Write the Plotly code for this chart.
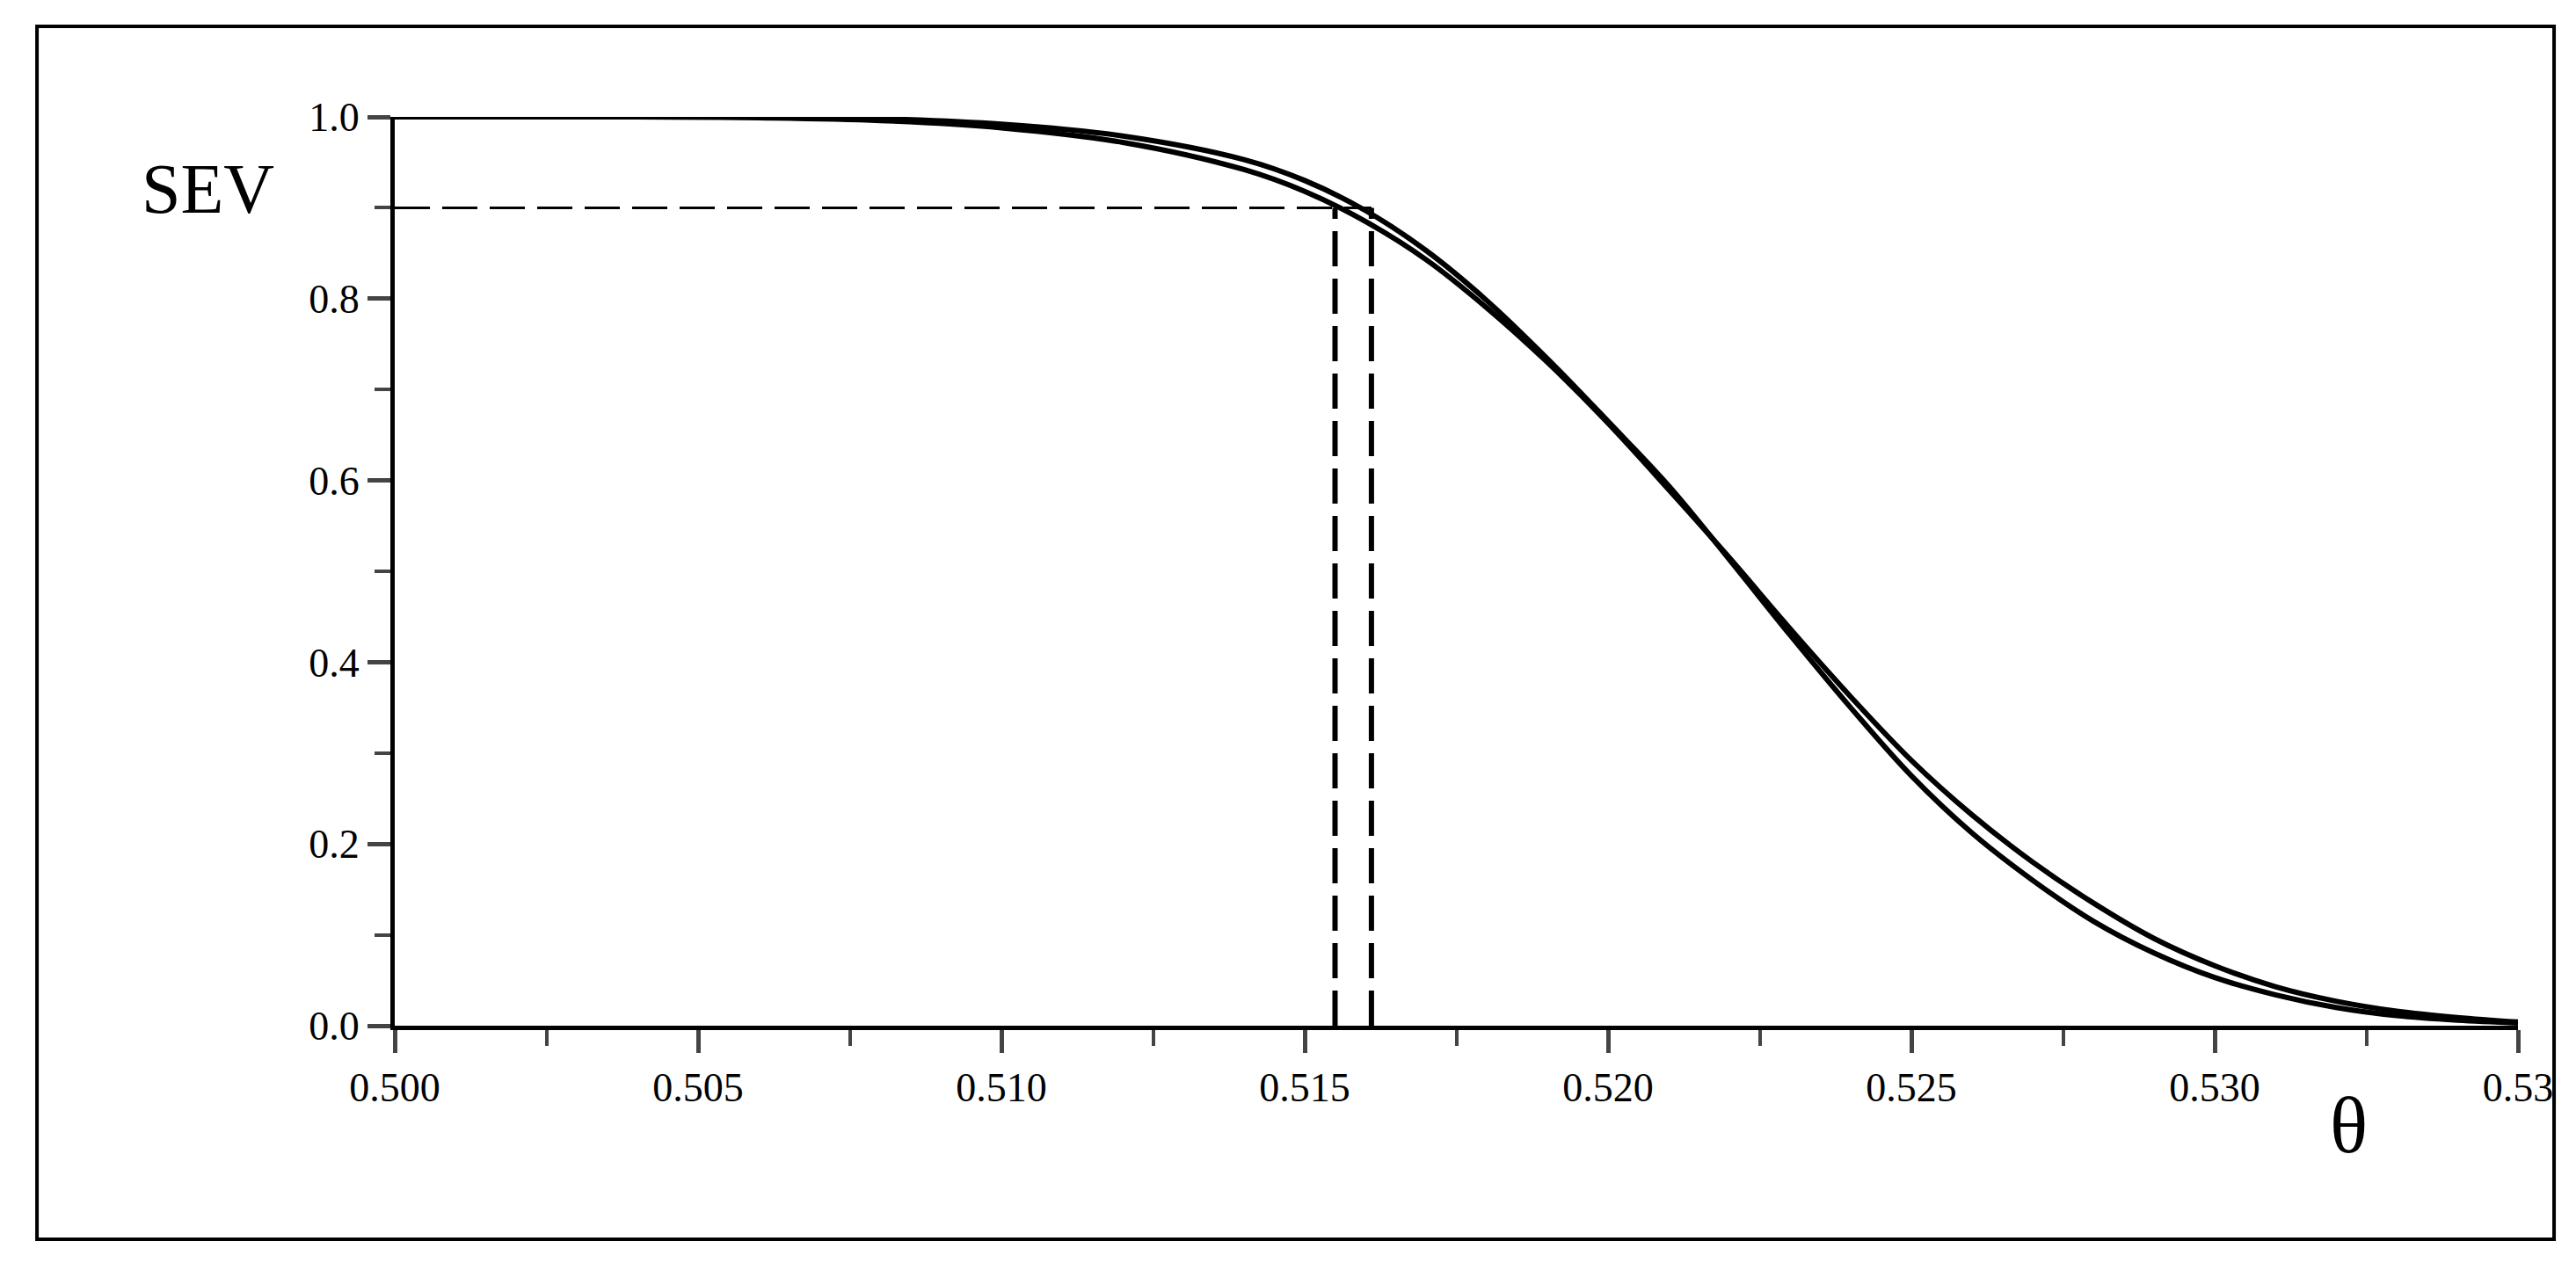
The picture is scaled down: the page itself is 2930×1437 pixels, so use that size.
import plotly.graph_objects as go

theta = [0.500, 0.504, 0.506, 0.508, 0.510, 0.512, 0.514, 0.515, 0.516, 0.517, 0.518, 0.519, 0.520, 0.521, 0.522, 0.523, 0.524, 0.525, 0.526, 0.527, 0.528, 0.529, 0.530, 0.531, 0.532, 0.533, 0.534, 0.535]
sev_a = [1.000, 1.000, 0.999, 0.996, 0.988, 0.972, 0.942, 0.918, 0.885, 0.843, 0.790, 0.730, 0.663, 0.590, 0.515, 0.437, 0.362, 0.292, 0.232, 0.180, 0.135, 0.096, 0.066, 0.043, 0.027, 0.016, 0.009, 0.004]
sev_b = [1.000, 1.000, 1.000, 0.998, 0.992, 0.979, 0.953, 0.930, 0.897, 0.853, 0.798, 0.734, 0.665, 0.594, 0.513, 0.430, 0.350, 0.275, 0.212, 0.160, 0.115, 0.080, 0.053, 0.034, 0.020, 0.011, 0.006, 0.003]
sev_level = 0.9
theta_cut = [0.5155, 0.5161]
x_ticks = [0.500, 0.505, 0.510, 0.515, 0.520, 0.525, 0.530, 0.535]
x_labels = ["0.500", "0.505", "0.510", "0.515", "0.520", "0.525", "0.530", "0.53"]
y_ticks = [0.0, 0.2, 0.4, 0.6, 0.8, 1.0]
y_labels = ["0.0", "0.2", "0.4", "0.6", "0.8", "1.0"]

fig = go.Figure()
fig.add_trace(go.Scatter(x=theta, y=sev_a, mode="lines", line=dict(color="black", width=6, shape="spline"), cliponaxis=False))
fig.add_trace(go.Scatter(x=theta, y=sev_b, mode="lines", line=dict(color="black", width=6, shape="spline"), cliponaxis=False))
fig.add_trace(go.Scatter(x=[0.500, max(theta_cut)], y=[sev_level, sev_level], mode="lines",
                         line=dict(color="black", width=3, dash="40px,14px")))
for tc in theta_cut:
    fig.add_trace(go.Scatter(x=[tc, tc], y=[0, sev_level], mode="lines",
                             line=dict(color="black", width=6, dash="40px,14px")))

font = "Liberation Serif"
fig.update_layout(
    width=2930, height=1437, showlegend=False,
    paper_bgcolor="white", plot_bgcolor="white",
    margin=dict(l=441, r=74, t=125, b=278),
    font=dict(family=font, color="black", size=46),
    xaxis=dict(range=[0.500, 0.535], tickvals=x_ticks, ticktext=x_labels, showgrid=False, zeroline=False,
               showline=True, linecolor="black", linewidth=5, ticks="outside", ticklen=26, tickwidth=5,
               minor=dict(tickvals=[0.5025 + 0.005 * i for i in range(7)], ticks="outside", ticklen=18, tickwidth=4),
               tickfont=dict(size=46, family=font)),
    yaxis=dict(range=[0, 1.0], tickvals=y_ticks, ticktext=y_labels, showgrid=False, zeroline=False,
               showline=True, linecolor="black", linewidth=5, ticks="outside", ticklen=26, tickwidth=5,
               minor=dict(tickvals=[0.1, 0.3, 0.5, 0.7, 0.9], ticks="outside", ticklen=18, tickwidth=4),
               tickfont=dict(size=46, family=font)),
    annotations=[
        dict(text="SEV", x=-0.12, y=0.965, xref="paper", yref="paper", showarrow=False,
             font=dict(size=80, family=font)),
        dict(text="θ", x=0.93, y=-0.16, xref="paper", yref="paper", showarrow=False,
             font=dict(size=90, family=font)),
    ],
    shapes=[dict(type="rect", xref="paper", yref="paper", x0=-0.1685, x1=1.017, y0=-0.235, y1=1.0996,
                 line=dict(color="black", width=4))],
)
fig.write_html("out.html")
